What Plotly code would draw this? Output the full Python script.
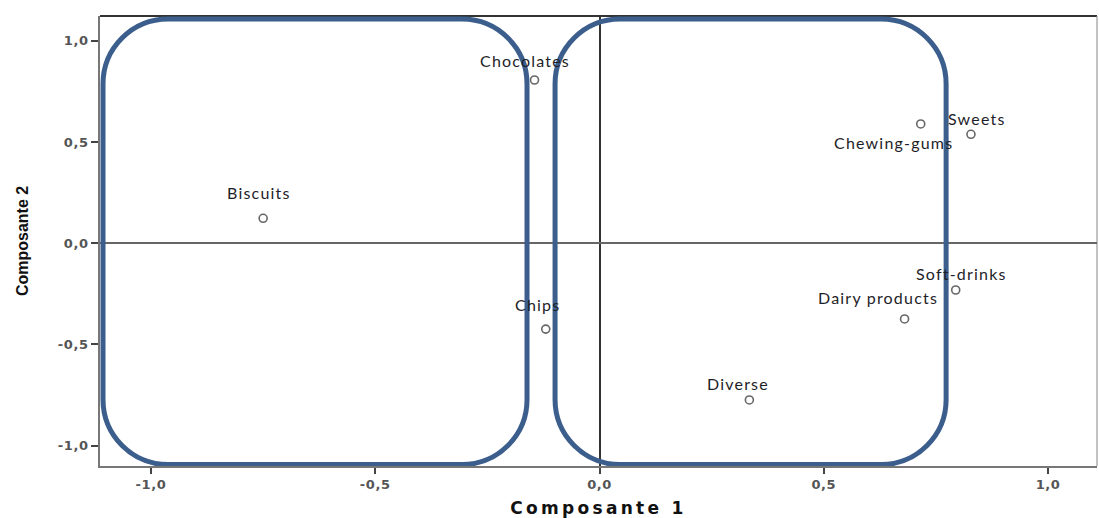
import plotly.graph_objects as go

# ---- data ----
products = ["Chocolates", "Sweets", "Chewing-gums", "Biscuits",
            "Soft-drinks", "Dairy products", "Chips", "Diverse"]
comp1 = [-0.145, 0.828, 0.716, -0.750, 0.794, 0.680, -0.120, 0.334]
comp2 = [0.806, 0.538, 0.589, 0.123, -0.231, -0.374, -0.424, -0.774]
tick_vals = [-1.0, -0.5, 0.0, 0.5, 1.0]
tick_text = ["-1,0", "-0,5", "0,0", "0,5", "1,0"]
x_title = "Composante 1"
y_title = "Composante 2"

# ---- label offsets (pixels) ----
label_shift = {
    "Chocolates": (-10, 20), "Sweets": (6, 16), "Chewing-gums": (-27, -19),
    "Biscuits": (-4, 26), "Soft-drinks": (6, 17), "Dairy products": (-27, 21),
    "Chips": (-8, 25), "Diverse": (-11, 16),
}

X_RANGE = [-1.1137, 1.109]
Y_RANGE = [-1.100, 1.122]

fig = go.Figure()
fig.add_trace(go.Scatter(
    x=comp1, y=comp2, mode="markers",
    marker=dict(symbol="circle-open", size=8, color="#666666",
                line=dict(width=1.6, color="#666666")),
    hoverinfo="text", text=products, showlegend=False,
))

for name, xv, yv in zip(products, comp1, comp2):
    dx, dy = label_shift[name]
    fig.add_annotation(x=xv, y=yv,
                       text=f'<span style="letter-spacing:1.2px">{name}</span>',
                       showarrow=False, xshift=dx, yshift=dy,
                       font=dict(family="Lato, Open Sans, sans-serif", size=16, color="#1e1e28"))


def rounded_rect(x0, x1, y0, y1, rx, ry):
    k = 0.5523
    return (f"M {x0+rx},{y1} L {x1-rx},{y1} "
            f"C {x1-rx+k*rx},{y1} {x1},{y1-ry+k*ry} {x1},{y1-ry} "
            f"L {x1},{y0+ry} "
            f"C {x1},{y0+ry-k*ry} {x1-rx+k*rx},{y0} {x1-rx},{y0} "
            f"L {x0+rx},{y0} "
            f"C {x0+rx-k*rx},{y0} {x0},{y0+ry-k*ry} {x0},{y0+ry} "
            f"L {x0},{y1-ry} "
            f"C {x0},{y1-ry+k*ry} {x0+rx-k*rx},{y1} {x0+rx},{y1} Z")

rx, ry = 0.145, 0.321
box_style = dict(color="#3B5E8C", width=5)
fig.add_shape(type="path", xref="x", yref="y",
              path=rounded_rect(-1.107, -0.1617, -1.093, 1.107, rx, ry),
              line=box_style, layer="above")
fig.add_shape(type="path", xref="x", yref="y",
              path=rounded_rect(-0.0992, 0.7726, -1.093, 1.107, rx, ry),
              line=box_style, layer="above")

# frame: top and right
fig.add_shape(type="line", xref="paper", yref="paper", x0=0, x1=1, y0=1, y1=1,
              line=dict(color="#333333", width=2), layer="below")
fig.add_shape(type="line", xref="paper", yref="paper", x0=1, x1=1, y0=0, y1=1,
              line=dict(color="#999999", width=1.2), layer="below")

tick_font = dict(family="DejaVu Sans", size=13, color="#555555", weight="bold")
tick_html = [f'<span style="letter-spacing:0.6px">{t}</span>' for t in tick_text]
fig.update_xaxes(range=X_RANGE, tickvals=tick_vals, ticktext=tick_html,
                 showgrid=False, zeroline=True, zerolinecolor="#333333", zerolinewidth=1.6,
                 showline=True, linecolor="#777777", linewidth=1.6,
                 ticks="outside", ticklen=6, tickwidth=1.6, tickcolor="#444444",
                 tickfont=tick_font,
                 title=dict(text=f'<span style="letter-spacing:3.3px">{x_title}</span>', standoff=11,
                            font=dict(family="DejaVu Sans", size=17, color="#111111", weight="bold")))
fig.update_yaxes(range=Y_RANGE, tickvals=tick_vals, ticktext=tick_html,
                 showgrid=False, zeroline=True, zerolinecolor="#666666", zerolinewidth=1.8,
                 showline=True, linecolor="#777777", linewidth=1.6,
                 ticks="outside", ticklen=7, tickwidth=1.6, tickcolor="#444444",
                 tickfont=tick_font,
                 title=dict(text=y_title, standoff=25,
                            font=dict(family="Liberation Sans", size=16, color="#111111", weight="bold")))

fig.update_layout(
    width=1099, height=518,
    margin=dict(l=100, r=2, t=16, b=52),
    paper_bgcolor="white", plot_bgcolor="white",
    separators=", ",
)

fig.write_html("out.html", config={"displayModeBar": False},
               post_script="document.body.style.margin='0';document.body.style.overflow='hidden';")
